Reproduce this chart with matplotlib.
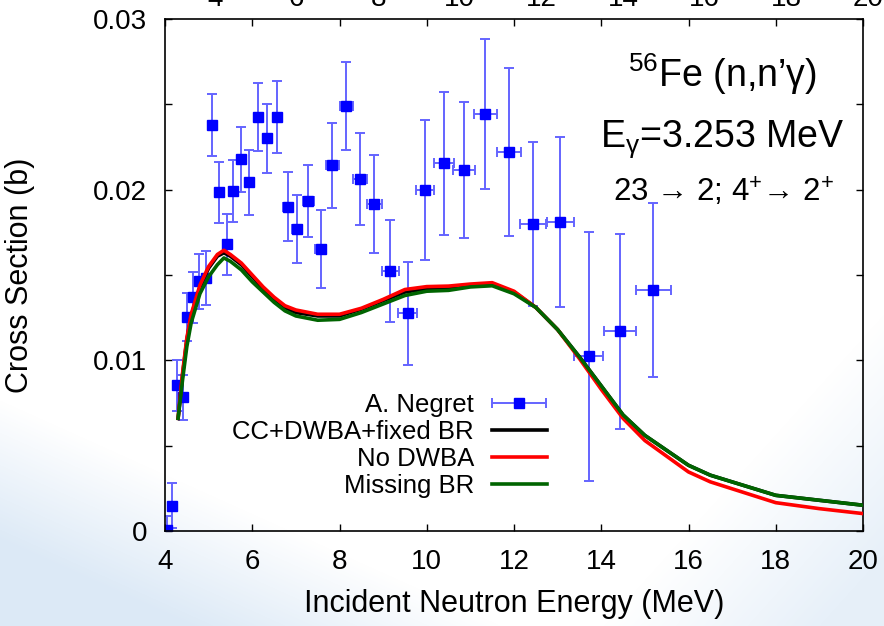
import numpy as np
import matplotlib
matplotlib.use("Agg")
import matplotlib.pyplot as plt
from matplotlib.ticker import MultipleLocator, FormatStrFormatter
from matplotlib.legend_handler import HandlerErrorbar
from matplotlib.container import ErrorbarContainer

# 56Fe(n,n'g) 3.253 MeV line: A. Negret measurement
e_exp = [4.05, 4.17, 4.27, 4.405, 4.51, 4.635, 4.77, 4.93, 5.085, 5.245,
         5.414, 5.566, 5.75, 5.93, 6.14, 6.34, 6.567, 6.81, 7.03, 7.285,
         7.567, 7.83, 8.15, 8.47, 8.80, 9.164, 9.56, 9.96, 10.40, 10.85,
         11.34, 11.885, 12.44, 13.06, 13.71, 14.43, 15.19]
de_exp = [0.03, 0.03, 0.04, 0.04, 0.04, 0.05, 0.05, 0.05, 0.06, 0.06,
          0.06, 0.07, 0.07, 0.07, 0.08, 0.08, 0.09, 0.11, 0.12, 0.12,
          0.13, 0.15, 0.15, 0.17, 0.18, 0.20, 0.21, 0.21, 0.23, 0.25,
          0.26, 0.28, 0.30, 0.31, 0.34, 0.37, 0.40]
xs_exp = [0.00008, 0.00149, 0.00853, 0.00783, 0.01252, 0.01369, 0.01463, 0.01482, 0.02378, 0.01985,
          0.01680, 0.01991, 0.02179, 0.02044, 0.02425, 0.02300, 0.02425, 0.01901, 0.01768, 0.01932,
          0.01651, 0.02143, 0.02490, 0.02063, 0.01916, 0.01523, 0.01275, 0.01997, 0.02155, 0.02114,
          0.02443, 0.02220, 0.01797, 0.01811, 0.01023, 0.01170, 0.01410]
dxs_exp = [0.0008, 0.0013, 0.0015, 0.0013, 0.0014, 0.0015, 0.0016, 0.0016, 0.0018, 0.0018,
           0.0018, 0.0018, 0.0019, 0.0019, 0.0020, 0.0020, 0.0021, 0.0020, 0.0020, 0.0021,
           0.0023, 0.0025, 0.0026, 0.0027, 0.0029, 0.0030, 0.0030, 0.0041, 0.0042, 0.0040,
           0.0044, 0.0049, 0.0048, 0.0050, 0.0073, 0.0057, 0.0051]

# model calculations
e_calc = [4.3, 4.4, 4.5, 4.6, 4.8, 5.0, 5.2, 5.35, 5.5, 5.75,
          6.0, 6.25, 6.5, 6.75, 7.0, 7.5, 8.0, 8.5, 9.0, 9.5,
          10.0, 10.5, 11.0, 11.5, 12.0, 12.5, 13.0, 13.5, 14.0, 14.5,
          15.0, 16.0, 16.5, 18.0, 19.0, 20.0]
xs_cc_dwba = [0.0066, 0.0091, 0.0112, 0.0126, 0.0143, 0.0154, 0.0161, 0.0163, 0.0161, 0.0156,
              0.0149, 0.0142, 0.0136, 0.0131, 0.0128, 0.0126, 0.0126, 0.0130, 0.0135, 0.0140,
              0.0142, 0.01425, 0.0144, 0.01447, 0.0140, 0.0131, 0.0118, 0.0102, 0.0085, 0.0068,
              0.0056, 0.00385, 0.00327, 0.00209, 0.0018, 0.00151]
xs_no_dwba = [0.0066, 0.0092, 0.0113, 0.0127, 0.0144, 0.0155, 0.0162, 0.01645, 0.0162, 0.0157,
              0.0150, 0.0143, 0.0137, 0.0132, 0.01295, 0.0127, 0.0127, 0.01305, 0.01357, 0.01415,
              0.01432, 0.01435, 0.01447, 0.01455, 0.01405, 0.0131, 0.0118, 0.0101, 0.0083, 0.0066,
              0.0053, 0.00346, 0.00288, 0.00166, 0.00131, 0.00102]
xs_missing_br = [0.0066, 0.0088, 0.0108, 0.0122, 0.0139, 0.0149, 0.0156, 0.0160, 0.0158, 0.0153,
                 0.0146, 0.0140, 0.0134, 0.0129, 0.0126, 0.01235, 0.0124, 0.0128, 0.0133, 0.0138,
                 0.01405, 0.0141, 0.0143, 0.01437, 0.0139, 0.0131, 0.0118, 0.0102, 0.0085, 0.0068,
                 0.0056, 0.00385, 0.00327, 0.00209, 0.0018, 0.00151]

# tick labels of the panel above, cut by the top edge
top_ticks = ["4", "6", "8", "10", "12", "14", "16", "18", "20"]

plt.rcParams["font.family"] = ["Liberation Sans", "DejaVu Sans"]
plt.rcParams["mathtext.fontset"] = "custom"
plt.rcParams["mathtext.rm"] = "Liberation Sans"
plt.rcParams["mathtext.it"] = "Liberation Sans:italic"

W, H = 884, 626
fig = plt.figure(figsize=(W / 100, H / 100), dpi=100)

# pale blue slide background
bg = fig.add_axes([0, 0, 1, 1], zorder=-1)
yy, xx = np.mgrid[0:H, 0:W].astype(float)
t_left = np.clip(((yy - 400) - 0.45 * xx) / 140, 0, 1) * 0.85
t_right = np.clip(((xx - 860) + 0.9 * (yy - 340)) / 220, 0, 1) * 0.6
t = np.maximum(t_left, t_right)
tint = np.array([0.84, 0.90, 0.96])
img = 1 - t[..., None] * (1 - tint)
bg.imshow(img, extent=(0, 1, 0, 1), aspect="auto", origin="upper")
bg.axis("off")

ax = fig.add_axes([165 / W, 95 / H, 698 / W, 512 / H])
ax.set_facecolor("none")

eb = ax.errorbar(e_exp, xs_exp, xerr=de_exp, yerr=dxs_exp, fmt="s", color="#0000ff",
                 ms=6.5, ecolor="#6464ff", elinewidth=1.4, capsize=3.5, capthick=1.4,
                 label="A. Negret", zorder=2)
l1, = ax.plot(e_calc, xs_cc_dwba, color="black", lw=2.6, label="CC+DWBA+fixed BR", zorder=3)
l2, = ax.plot(e_calc, xs_no_dwba, color="#ff0000", lw=2.6, label="No DWBA", zorder=4)
l3, = ax.plot(e_calc, xs_missing_br, color="#006400", lw=2.6, label="Missing BR", zorder=5)

ax.set_xlim(4, 20)
ax.set_ylim(0, 0.03)
ax.xaxis.set_major_locator(MultipleLocator(2))
ax.yaxis.set_major_locator(MultipleLocator(0.01))
ax.yaxis.set_minor_locator(MultipleLocator(0.005))
ax.yaxis.set_major_formatter(FormatStrFormatter("%g"))
ax.tick_params(which="both", direction="in", top=True, right=True, length=5, width=1)
ax.tick_params(which="major", labelsize=20, pad=13)
for s in ax.spines.values():
    s.set_linewidth(1.2)

ax.set_xlabel("Incident Neutron Energy (MeV)", fontsize=22)
ax.set_ylabel("Cross Section (b)", fontsize=22)
ax.xaxis.set_label_coords(0.5, -0.114)
ax.yaxis.set_label_coords(-0.186, 0.5)

ax.legend([eb, l1, l2, l3], ["A. Negret", "CC+DWBA+fixed BR", "No DWBA", "Missing BR"],
          handler_map={ErrorbarContainer: HandlerErrorbar(xerr_size=1.05, yerr_size=0)},
          markerfirst=False, frameon=False, fontsize=18.5, loc="center right",
          bbox_to_anchor=(547 / W, 180.5 / H), bbox_transform=fig.transFigure,
          borderpad=0, borderaxespad=0, handlelength=2.15, handletextpad=0.7,
          labelspacing=0.12)

fig.text(722 / W, 1 - 87 / H, r"$^{56}$Fe (n,n’γ)", ha="center", va="baseline", fontsize=27)
fig.text(722 / W, 1 - 147 / H, r"E$_{\mathrm{\gamma}}$=3.253 MeV", ha="center", va="baseline", fontsize=27)
fig.text(723 / W, 1 - 202 / H, r"23 → 2; 4$^{+}$→ 2$^{+}$", ha="center", va="baseline", fontsize=22.5)

for i, lab in enumerate(top_ticks):
    fig.text((215 + 81.6 * i) / W, 1 - 6 / H, lab, ha="center", va="baseline", fontsize=20)

fig.savefig("out.png", dpi=100)
